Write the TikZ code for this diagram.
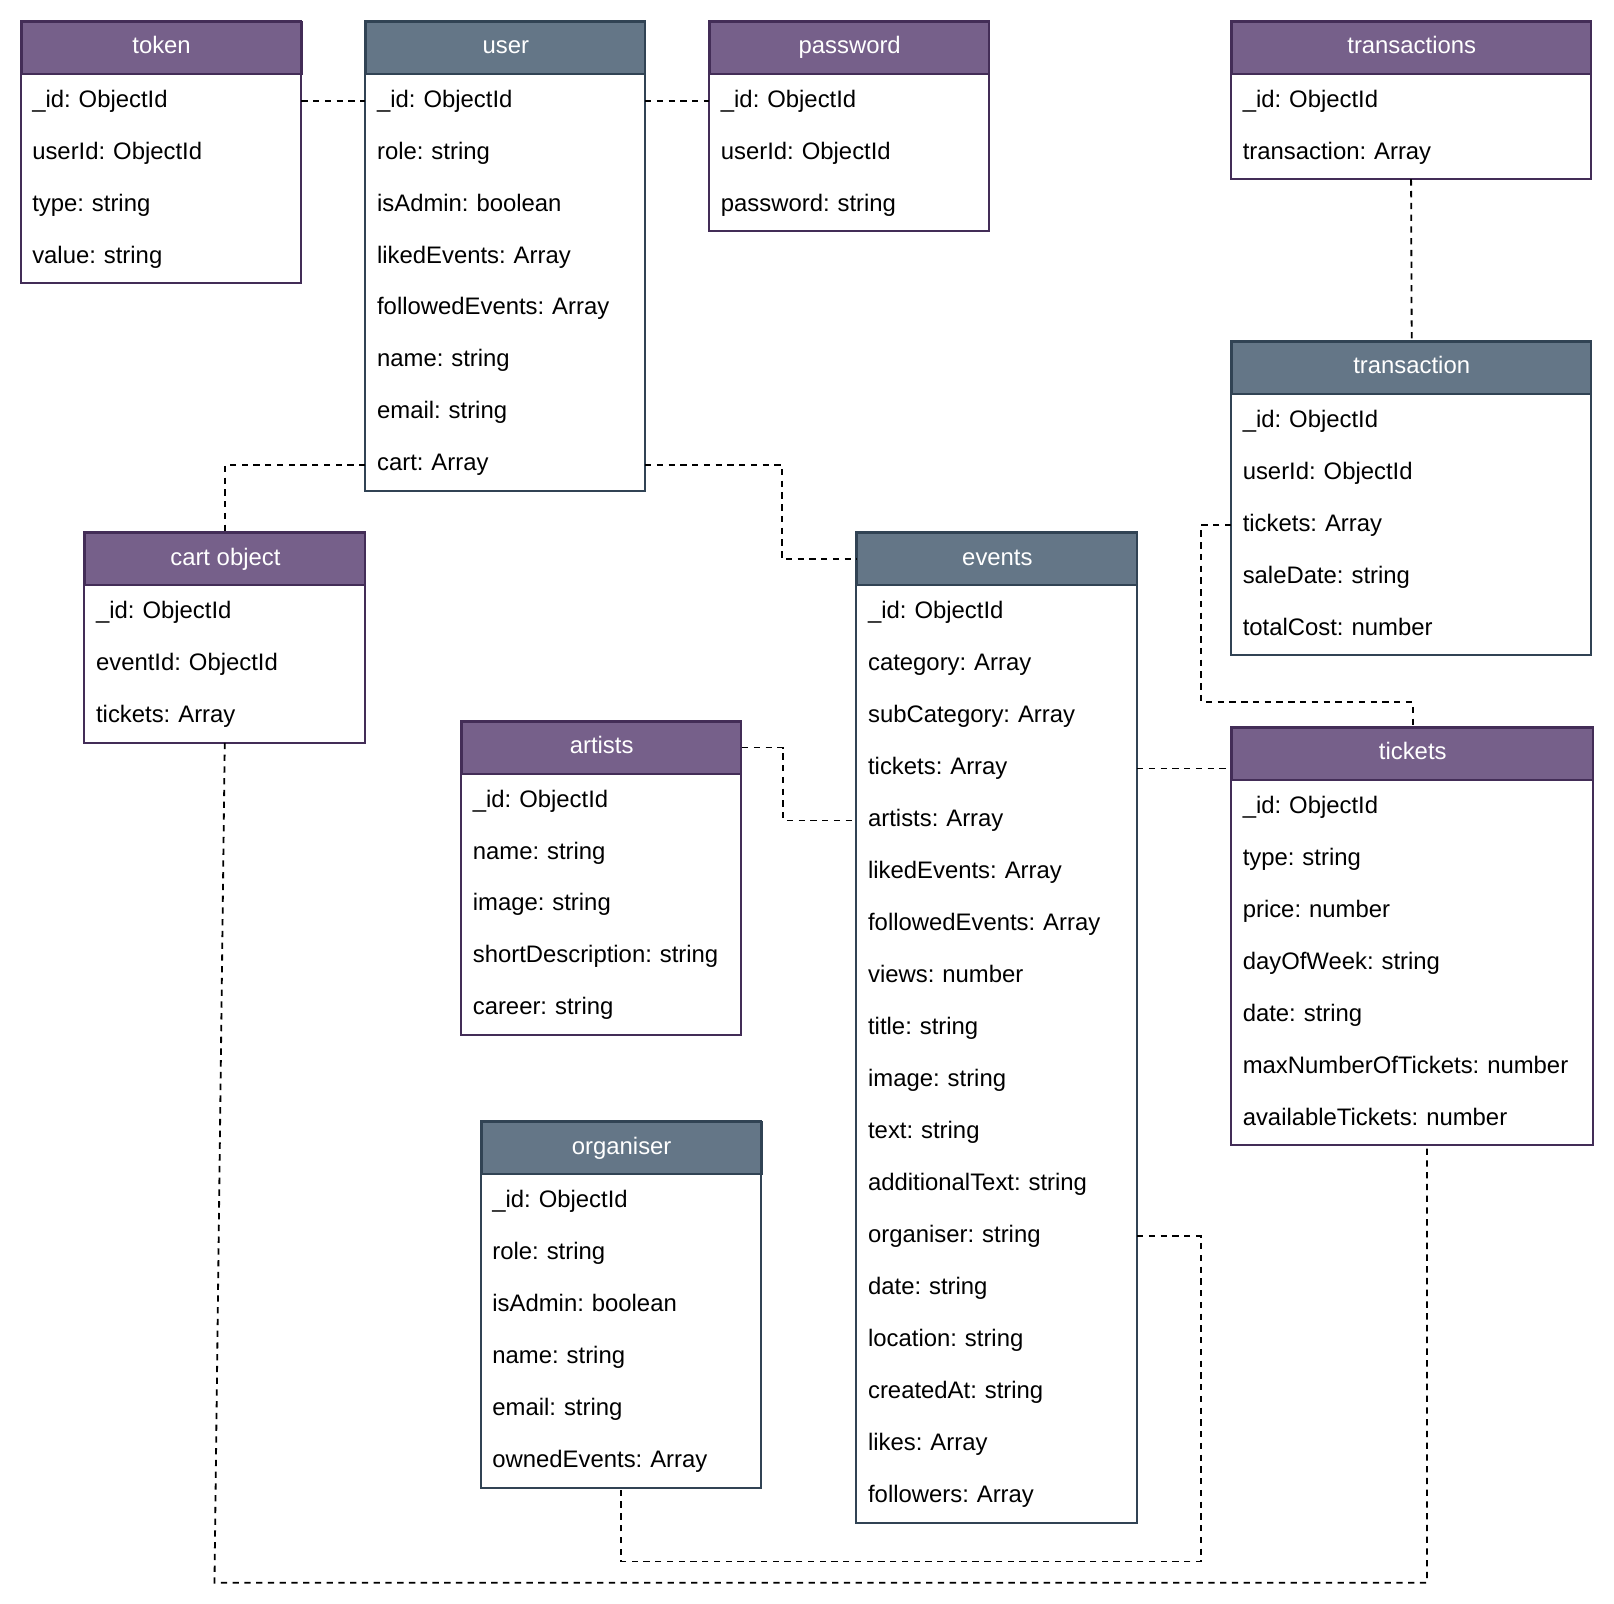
\documentclass[tikz,border=0pt]{standalone}
\usepackage{fontspec}
\setmainfont{Liberation Sans}
\usepackage{tikz}
\usetikzlibrary{positioning, calc}
\usepackage{xcolor}
\definecolor{headpurple}{HTML}{76608A}
\definecolor{edgepurple}{HTML}{432D57}
\definecolor{headslate}{HTML}{647687}
\definecolor{edgeslate}{HTML}{314354}
\frenchspacing
\newcommand{\px}{0.02cm}
\newcommand{\rowh}{50.5}
% id, x, y, width, rows, title, colour, fields
\newcommand{\erTable}[8]{%
  \pgfmathsetlengthmacro{\tw}{(#4-22)*\px}%
  \node[head, fill=head#7, draw=edge#7, minimum width=#4*\px,
        anchor=north west] (#1) at (#2,#3) {#6};
  \foreach \f [count=\i] in {#8}
    \node[field, text width=\tw, anchor=north west] (#1-\i)
      at ($(#1.south west)+(0,{(\i-1)*\rowh})$) {\f};
  \draw[draw=edge#7, line width=1.1pt] (#1.north west) rectangle (#1-#5.south east);
}

\begin{document}
\begin{tikzpicture}[
    x=\px, y=-\px,
    font=\fontsize{13.2pt}{16pt}\selectfont\frenchspacing,
    head/.style={line width=1.1pt, text=white, inner sep=0pt,
                 text height=9.6pt, text depth=2.8pt,
                 minimum height=\rowh*\px},
    field/.style={inner xsep=11*\px, inner ysep=0pt, align=left,
                  text height=9.6pt, text depth=2.8pt,
                  minimum height=\rowh*\px},
    rel/.style={dash pattern=on 3.5pt off 3pt, line width=1pt, black},
]
\useasboundingbox (0,0) rectangle (1568,1558);

\erTable{token}{20}{20}{272}{4}{token}{purple}{\_id: ObjectId, userId: ObjectId, type: string, value: string}
\erTable{user}{355}{20}{271}{8}{user}{slate}{\_id: ObjectId, role: string, isAdmin: boolean, likedEvents: Array, followedEvents: Array, name: string, email: string, cart: Array}
\erTable{password}{689}{20}{271}{3}{password}{purple}{\_id: ObjectId, userId: ObjectId, password: string}
\erTable{transactions}{1196}{20}{349}{2}{transactions}{purple}{\_id: ObjectId, transaction: Array}
\erTable{transaction}{1196}{331}{349}{5}{transaction}{slate}{\_id: ObjectId, userId: ObjectId, tickets: Array, saleDate: string, totalCost: number}
\erTable{cartobj}{82}{517}{272}{3}{cart object}{purple}{\_id: ObjectId, eventId: ObjectId, tickets: Array}
\erTable{events}{832}{517}{272}{18}{events}{slate}{\_id: ObjectId, category: Array, subCategory: Array, tickets: Array, artists: Array, likedEvents: Array, followedEvents: Array, views: number, title: string, image: string, text: string, additionalText: string, organiser: string, date: string, location: string, createdAt: string, likes: Array, followers: Array}
\erTable{artists}{448}{700}{271}{5}{artists}{purple}{\_id: ObjectId, name: string, image: string, shortDescription: string, career: string}
\erTable{tickets}{1196}{706}{351}{7}{tickets}{purple}{\_id: ObjectId, type: string, price: number, dayOfWeek: string, date: string, maxNumberOfTickets: number, availableTickets: number}
\erTable{organiser}{467}{1089}{272}{6}{organiser}{slate}{\_id: ObjectId, role: string, isAdmin: boolean, name: string, email: string, ownedEvents: Array}

% relations
\draw[rel] (token-1.east) -- (user-1.west);
\draw[rel] (user-1.east) -- (password-1.west);
\draw[rel] (user-8.west) -| (cartobj.north);
\draw[rel] (user-8.east) -- ++(133,0) |- (events.west);
\draw[rel] (transactions-2.south) -- (transaction.north);
\draw[rel] (transaction-3.west) -- ++(-29,0) -- ++(0,172) -| (tickets.north);
\draw[rel] (events-4.east) -- (events-4.east -| tickets.west);
\draw[rel] (artists.east) -- ++(40,0) |- (events-5.west);
\draw[rel] (cartobj-3.south) -- ++(-10,816) -| ([xshift=14.5*\px]tickets-7.south);
\draw[rel] (events-13.east) -- ++(62,0) -- ++(0,316) -| (organiser-6.south);
\end{tikzpicture}
\end{document}
